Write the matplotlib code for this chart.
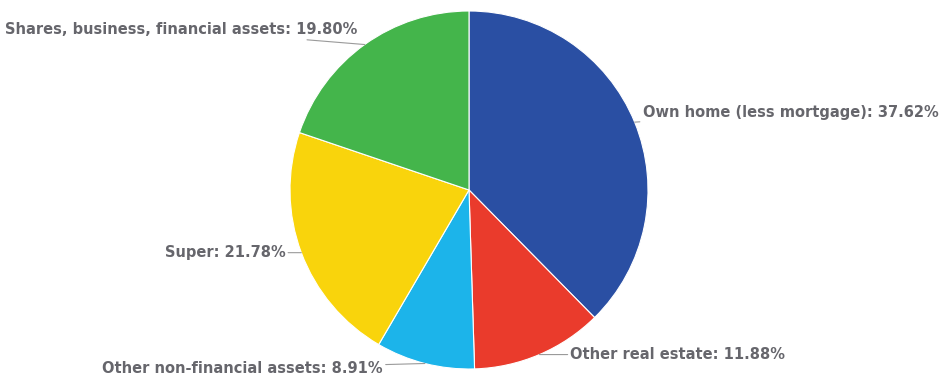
import numpy as np
import matplotlib
matplotlib.use("Agg")
import matplotlib.pyplot as plt

# Data
labels = [
    "Own home (less mortgage)",
    "Other real estate",
    "Other non-financial assets",
    "Super",
    "Shares, business, financial assets",
]
shares = [37.62, 11.88, 8.91, 21.78, 19.80]
colors = ["#2a4fa3", "#ea3b2c", "#1cb4ea", "#f9d40c", "#44b54b"]

# label anchor (pixels from the pie edge point) and alignment
label_offsets = [(8, 10), (31, 0), (-42, -5), (-16, 0), (-7, 15)]
label_align = ["left", "left", "right", "right", "right"]

W, H = 945, 379
fig = plt.figure(figsize=(W / 100, H / 100), dpi=100)
ax = fig.add_axes([0, 0, 1, 1])

cx, cy, r = 469, 189, 179
wedges, _ = ax.pie(
    shares, colors=colors, startangle=90, counterclock=False,
    center=(cx, cy), radius=r, frame=True,
    wedgeprops=dict(edgecolor="white", linewidth=0.8),
)
ax.set_xlim(0, W)
ax.set_ylim(0, H)
ax.set_aspect("equal")
ax.axis("off")

for w, lab, val, off, ha in zip(wedges, labels, shares, label_offsets, label_align):
    mid = np.deg2rad((w.theta1 + w.theta2) / 2)
    ex, ey = cx + r * np.cos(mid), cy + r * np.sin(mid)
    ax.annotate(
        f"{lab}: {val:.2f}%", xy=(ex, ey), xytext=(ex + off[0], ey + off[1]),
        ha=ha, va="center", fontsize=10.5, fontweight="bold", color="#66666c",
        arrowprops=dict(arrowstyle="-", color="#9a9a9a", lw=0.8,
                        shrinkA=0, shrinkB=0),
    )

fig.savefig("out.png", dpi=100)
